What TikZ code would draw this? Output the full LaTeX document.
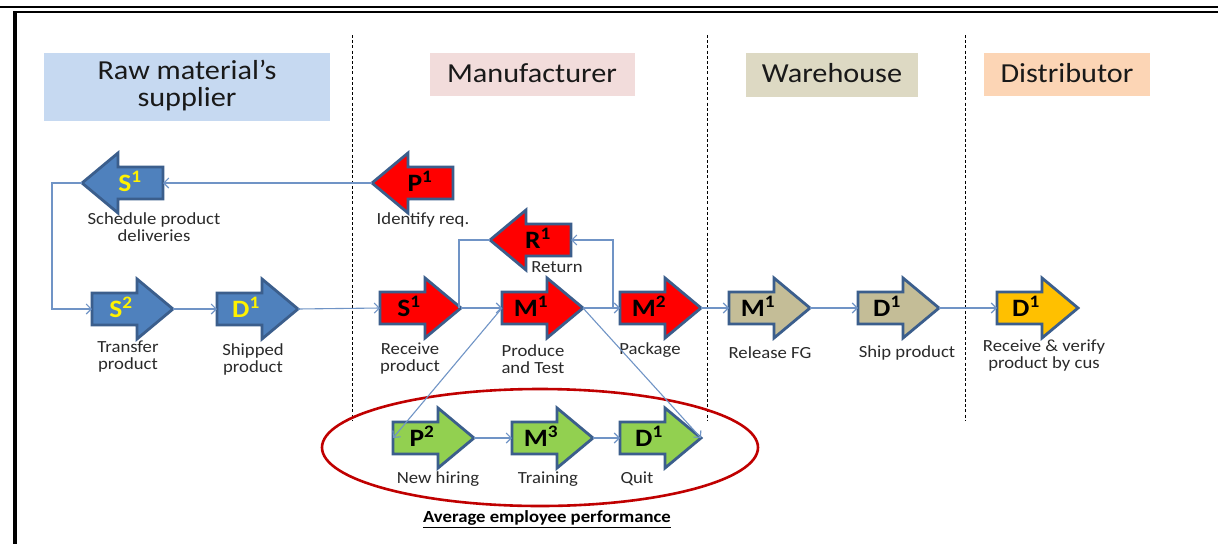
\documentclass[tikz,border=0pt]{standalone}
\usepackage{fontspec}
\setmainfont{Carlito}[FakeStretch=1.1]
\usetikzlibrary{arrows.meta}
\definecolor{hdrblue}{HTML}{C6D9F1}
\definecolor{hdrpink}{HTML}{F2DCDB}
\definecolor{hdrtan}{HTML}{DDD9C3}
\definecolor{hdrpeach}{HTML}{FCD5B5}
\definecolor{fblue}{HTML}{4F81BD}
\definecolor{fred}{HTML}{FF0000}
\definecolor{ftan}{HTML}{C4BD97}
\definecolor{fyellow}{HTML}{FFC000}
\definecolor{fgreen}{HTML}{92D050}
\definecolor{edge}{HTML}{3B5E8C}
\definecolor{conncol}{HTML}{7094C6}
\definecolor{ellred}{HTML}{C00000}
\definecolor{labcol}{HTML}{2A2A2A}
\newcommand\RArrow[5]{%
  \path[blk,#4] (#2,#3-16) -- (#2+45,#3-16) -- (#2+45,#3-30) -- (#2+81,#3) -- (#2+45,#3+30) -- (#2+45,#3+16) -- (#2,#3+16) -- cycle;
  \node[arrowbox] (#1) at (#2+40.5,#3) {};
  \coordinate (#1-tail) at (#2,#3);
  \coordinate (#1-tip) at (#2+81,#3);
  \node[arrowtext] (#1-txt) at (#2+29,#3-2) {#5};
}
\newcommand\LArrow[5]{%
  \path[blk,#4] (#2+81,#3-16) -- (#2+36,#3-16) -- (#2+36,#3-30) -- (#2,#3) -- (#2+36,#3+30) -- (#2+36,#3+16) -- (#2+81,#3+16) -- cycle;
  \node[arrowbox] (#1) at (#2+40.5,#3) {};
  \coordinate (#1-tip) at (#2,#3);
  \coordinate (#1-tail) at (#2+81,#3);
  \node[arrowtext] (#1-txt) at (#2+48,#3-2) {#5};
}
\begin{document}
\begin{tikzpicture}[x=1pt,y=-1pt,
  blk/.style={draw=edge,line width=2.8pt,line join=miter},
  arrowbox/.style={minimum width=81pt,minimum height=60pt,inner sep=0pt},
  arrowtext/.style={font=\fontsize{25}{25}\selectfont\bfseries,inner sep=0pt},
  hdr/.style={inner sep=0pt,font=\fontsize{27.5}{27}\selectfont,text=black!90,align=center},
  lab/.style={font=\fontsize{17}{17}\selectfont,text=labcol,align=center,inner sep=0pt},
  conn/.style={draw=conncol,line width=1.1pt,-{Straight Barb[length=5pt,width=10pt]}},
  plain/.style={draw=conncol,line width=1.1pt},
  sep/.style={draw=black,line width=0.9pt,dash pattern=on 3pt off 2.2pt}]
\useasboundingbox (0,0) rectangle (1218,544);
\fill[white] (0,0) rectangle (1218,544);
% frame
\draw[line width=2.6pt] (0,7) -- (1218,7);
\draw[line width=1.6pt] (13,12) -- (1218,12);
\draw[line width=3.6pt] (15,11) -- (15,544);
% headers
\fill[hdrblue] (44,53) rectangle (330,121);
\node[hdr] (h1) at (187,86) {Raw material’s\\supplier};
\fill[hdrpink] (430,53) rectangle (635,96);
\node[hdr] (h2) at (532,73) {Manufacturer};
\fill[hdrtan] (746,53) rectangle (918,97);
\node[hdr] (h3) at (832,73) {Warehouse};
\fill[hdrpeach] (984,53) rectangle (1150,96);
\node[hdr] (h4) at (1067,73) {Distributor};
% separators
\draw[sep] (352,35) -- (352,421);
\draw[sep] (707,35) -- (707,421);
\draw[sep] (965,35) -- (965,421);
% ellipse
\draw[ellred,line width=2.6pt] (540,447.5) ellipse [x radius=218, y radius=58.5];
% block arrows
\LArrow{sb1}{82}{183}{fill=fblue}{\color{yellow}S\textsuperscript{1}}
\RArrow{sb2}{92}{309}{fill=fblue}{\color{yellow}S\textsuperscript{2}}
\RArrow{db1}{217}{309}{fill=fblue}{\color{yellow}D\textsuperscript{1}}
\LArrow{pr1}{372}{183}{fill=fred}{P\textsuperscript{1}}
\LArrow{rr1}{490}{240}{fill=fred}{R\textsuperscript{1}}
\RArrow{sr1}{380}{308}{fill=fred}{S\textsuperscript{1}}
\RArrow{mr1}{502}{308}{fill=fred}{M\textsuperscript{1}}
\RArrow{mr2}{620}{308}{fill=fred}{M\textsuperscript{2}}
\RArrow{mt1}{729}{308}{fill=ftan}{M\textsuperscript{1}}
\RArrow{dt1}{858}{308}{fill=ftan}{D\textsuperscript{1}}
\RArrow{dy1}{997}{308}{fill=fyellow}{D\textsuperscript{1}}
\RArrow{pg2}{393}{438}{fill=fgreen}{P\textsuperscript{2}}
\RArrow{mg3}{512}{438}{fill=fgreen}{M\textsuperscript{3}}
\RArrow{dg1}{620}{438}{fill=fgreen}{D\textsuperscript{1}}
% labels
\node[lab] (l1) at (154,227) {Schedule product\\deliveries};
\node[lab] (l2) at (128,357) {Transfer\\product};
\node[lab] (l3) at (253,359) {Shipped\\product};
\node[lab] (l4) at (423,220) {Identify req.};
\node[lab] (l5) at (557,267) {Return};
\node[lab] (l6) at (410,359) {Receive\\product};
\node[lab] (l7) at (533,359) {Produce\\and Test};
\node[lab] (l8) at (650,350) {Package};
\node[lab] (l9) at (770,353) {Release FG};
\node[lab] (l10) at (907,353) {Ship product};
\node[lab] (l11) at (1044,356) {Receive \& verify\\product by cus};
\node[lab] (l12) at (438,479) {New hiring};
\node[lab] (l13) at (548,479) {Training};
\node[lab] (l14) at (637,479) {Quit};
\node[lab,text=black,font=\fontsize{17}{17}\selectfont\bfseries] (l15) at (547,519) {\underline{Average employee performance}};
% connectors
\coordinate (jl) at (52,183);
\coordinate (jr) at (613,308);
\draw[conn] (pr1-tip) -- (sb1-tail);
\draw[conn] (sb1-tip) -- (jl) |- (sb2-tail);
\draw[conn] (sb2-tip) -- (db1-tail);
\draw[conn] (db1-tip) -- (sr1-tail);
\draw[conn] (sr1-tip) -- (mr1-tail);
\draw[plain] (sr1-tip) ++(-2,0) |- (rr1-tip);
\draw[conn] (mr1-tip) -- (mr2-tail);
\draw[conn] (jr) |- (rr1-tail);
\draw[conn] (mr2-tip) -- (mt1-tail);
\draw[conn] (mt1-tip) -- (dt1-tail);
\draw[conn] (dt1-tip) -- (dy1-tail);
\draw[conn] (pg2-tip) -- (mg3-tail);
\draw[conn] (mg3-tip) -- (dg1-tail);
\draw[conn] (mr1-tail) -- (pg2-tail);
\draw[conn] (mr1-tip) -- (dg1-tip);
\end{tikzpicture}
\end{document}
